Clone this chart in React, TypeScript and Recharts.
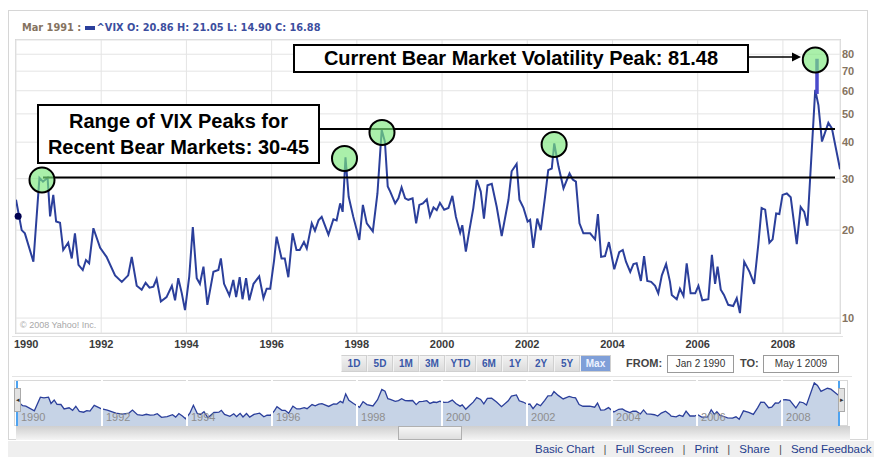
import React from 'react';
import {
  LineChart, Line, XAxis, YAxis, CartesianGrid, ReferenceLine, ReferenceDot,
  AreaChart, Area,
} from 'recharts';

// ---- data (monthly VIX closes, vertices of the line) ----
const monthsFrom1990 = [
  0, 1.6, 2.5, 4.9, 6.6, 7.6, 8.9, 9.6, 10.5, 11.3,
  12.4, 13.3, 14.7, 15.7, 16.6, 17.6, 18.8, 19.7, 20.6, 21.8,
  23.7, 25.5, 27.9, 29.8, 31.6, 32.6, 34.0, 35.4, 36.5, 37.6,
  38.7, 39.6, 40.8, 42.4, 43.9, 44.8, 45.7, 46.7, 47.6, 48.8,
  49.8, 50.9, 51.8, 52.8, 53.9, 55.6, 57.0, 57.7, 58.6, 60.1,
  61.2, 62.0, 63.0, 63.8, 64.8, 65.7, 66.9, 68.5, 69.7, 70.6,
  71.6, 72.7, 73.4, 74.8, 75.7, 76.7, 77.9, 79.0, 79.9, 81.1,
  81.9, 83.3, 84.2, 85.2, 86.1, 88.0, 89.4, 90.3, 91.3, 92.0,
  92.8, 93.7, 95.0, 96.7, 97.7, 98.8, 100.5, 101.8, 103.0, 103.9,
  104.7, 105.4, 106.8, 107.7, 108.6, 109.6, 110.5, 111.7, 112.7, 113.6,
  114.6, 115.7, 116.6, 117.6, 118.5, 119.4, 120.6, 121.8, 122.9, 123.9,
  125.1, 125.7, 126.7, 127.7, 128.8, 129.8, 130.9, 131.8, 132.8, 134.0,
  135.4, 136.8, 138.7, 139.6, 141.0, 141.8, 142.9, 144.1, 144.8, 145.7,
  146.8, 147.8, 149.0, 149.9, 150.9, 151.6, 152.8, 154.2, 155.9, 156.8,
  157.7, 158.7, 159.8, 161.7, 163.1, 163.9, 164.8, 165.9, 167.0, 168.5,
  169.9, 170.9, 171.8, 173.0, 173.9, 174.8, 176.0, 176.9, 177.8, 178.9,
  180.0, 180.9, 181.9, 183.1, 184.2, 184.7, 186.1, 187.0, 188.0, 188.9,
  190.0, 191.3, 192.2, 193.3, 195.0, 196.0, 196.9, 197.6, 198.5, 199.4,
  200.6, 202.0, 203.0, 203.9, 205.1, 206.6, 207.9, 209.1, 210.0, 211.0,
  212.2, 213.1, 214.1, 215.0, 215.9, 217.1, 218.2, 219.9, 221.0, 222.0,
  222.9, 225.1, 226.0, 227.0, 228.8, 229.8, 232.1,
];
const vixClose = [
  25.4, 20.0, 19.5, 15.6, 30.2, 29.3, 30.2, 22.3, 26.4, 21.4,
  21.2, 17.1, 18.1, 16.0, 19.5, 15.2, 14.6, 15.8, 15.4, 20.3,
  17.4, 16.2, 14.0, 13.3, 14.0, 16.2, 12.9, 12.5, 13.2, 12.7,
  12.8, 13.6, 11.4, 11.8, 12.9, 11.5, 13.7, 12.15, 10.65, 13.9,
  20.5, 13.7, 13.1, 15.0, 11.1, 14.4, 14.6, 16.0, 13.1, 11.95,
  13.5, 11.8, 13.8, 11.6, 13.7, 11.5, 13.1, 13.9, 11.7, 12.6,
  12.6, 15.8, 19.0, 16.0, 16.0, 13.8, 19.5, 17.1, 17.1, 18.2,
  17.3, 21.1, 19.9, 21.6, 22.2, 19.3, 21.8, 21.6, 24.7, 23.1,
  35.5, 26.0, 22.2, 18.5, 24.4, 21.1, 19.8, 26.7, 44.0, 40.2,
  28.2, 27.1, 24.7, 25.7, 28.0, 25.7, 25.4, 25.7, 21.1, 24.4,
  24.7, 25.5, 22.3, 23.9, 23.4, 24.8, 23.5, 23.8, 26.2, 22.2,
  19.6, 20.8, 16.9, 20.0, 23.8, 29.7, 27.1, 21.9, 28.5, 28.8,
  24.0, 19.1, 25.4, 31.8, 33.7, 25.4, 23.9, 21.4, 21.7, 17.4,
  21.9, 20.0, 26.0, 32.1, 32.5, 39.6, 33.0, 27.8, 31.3, 29.8,
  29.3, 21.1, 19.5, 19.5, 18.6, 22.7, 16.2, 16.3, 18.2, 14.7,
  16.8, 17.1, 15.6, 14.4, 15.3, 15.4, 13.4, 16.3, 13.4, 13.3,
  12.9, 12.15, 14.0, 15.3, 13.3, 12.0, 11.6, 12.6, 11.9, 15.4,
  12.15, 12.15, 12.9, 11.5, 11.6, 16.45, 13.1, 15.0, 12.5, 12.0,
  11.1, 11.0, 11.7, 10.4, 15.6, 14.4, 13.1, 18.0, 23.8, 23.5,
  18.1, 18.6, 22.8, 22.7, 26.4, 26.7, 25.9, 17.9, 24.0, 23.1,
  20.7, 60.4, 53.6, 40.2, 46.6, 44.6, 32.3,
];
const yearTicks = [1990, 1992, 1994, 1996, 1998, 2000, 2002, 2004, 2006, 2008];
const vixTicks = [10, 20, 30, 40, 50, 60, 70, 80];
const peakYears = [1990.61, 1997.71, 1998.59, 2002.63, 2008.76];
const peakLevels = [29.7, 35.2, 43.2, 39.3, 76.5];
const bearRangeLevels = [30.3, 44.4];
const intradayPeakYear = 2008.8;
const intradayPeakRange = [58.5, 77.2];
const cursorPoint = { year: 1990.05, vix: 22.3 };
const rangeButtons = ['1D', '5D', '1M', '3M', 'YTD', '6M', '1Y', '2Y', '5Y', 'Max'];
const footerLinks = ['Basic Chart', 'Full Screen', 'Print', 'Share', 'Send Feedback'];

const data = monthsFrom1990.map((m, i) => ({ year: 1990 + m / 12, vix: vixClose[i] }));

const FONT = '"Liberation Sans", Arial, sans-serif';
const HEAD_FONT = '"DejaVu Sans", Verdana, sans-serif';
const LINE_BLUE = '#2b3f9b';

const XTick = (props: any) => {
  const { x, y, payload } = props;
  const first = payload.value === 1990;
  return (
    <text x={first ? x - 2 : x} y={y + 15} textAnchor={first ? 'start' : 'middle'}
      fontFamily={FONT} fontSize={11} fontWeight="bold" fill="#3a3a3a">
      {payload.value}
    </text>
  );
};

const YTick = (props: any) => {
  const { x, y, payload } = props;
  return (
    <text x={x + 2} y={y + 4} textAnchor="start" fontFamily={FONT} fontSize={11}
      fontWeight="bold" fill="#85735f">
      {payload.value}
    </text>
  );
};

const navLabel = (yr: number) => (props: any) => {
  const vb = props.viewBox || {};
  return (
    <text x={vb.x + 4} y={vb.y + vb.height - 5} textAnchor="start" fontFamily={FONT}
      fontSize={11} fill="#8e8e8e">
      {yr}
    </text>
  );
};

const wideLine = (p: any) => (
  <line x1={p.x1 - 5} y1={p.y1} x2={p.x2 + 27} y2={p.y2} stroke="#000" strokeWidth={2} />
);

export default function App() {
  return (
    <div style={{ position: 'absolute', left: 0, top: 0, width: 874, height: 457, background: '#fff', overflow: 'hidden', fontFamily: FONT }}>
      {/* panel frame */}
      <div style={{ position: 'absolute', left: 8, top: 10, width: 860, height: 430, border: '1px solid #d6d6d6', boxSizing: 'border-box' }} />
      {/* header */}
      <div style={{ position: 'absolute', left: 22, top: 22, fontFamily: HEAD_FONT, fontSize: 9.8, fontWeight: 'bold', whiteSpace: 'pre' }}>
        <span style={{ color: '#85735f' }}>Mar 1991 : </span>
        <span style={{ display: 'inline-block', width: 10, height: 4, background: '#2b3f9b', verticalAlign: 'middle', marginRight: 2 }} />
        <span style={{ color: '#3c4e9e' }}>{'^VIX O: 20.86 H: 21.05 L: 14.90 C: 16.88'}</span>
      </div>
      {/* plot border */}
      <div style={{ position: 'absolute', left: 15, top: 39, width: 826, height: 295, border: '1px solid #d8d8d8', boxSizing: 'border-box' }} />
      <div style={{ position: 'absolute', left: 12, top: 336, width: 831, height: 1, background: '#e2e2e2' }} />
      <div style={{ position: 'absolute', left: 20, top: 320, fontSize: 9, color: '#a8a8a8' }}>© 2008 Yahoo! Inc.</div>

      <div style={{ position: 'absolute', left: 0, top: 0 }}>
        <LineChart width={874} height={457} data={data} margin={{ top: 40, right: 0, left: 16, bottom: 108 }}>
          <CartesianGrid stroke="#e4e4e4" strokeWidth={1} />
          <XAxis dataKey="year" type="number" scale="linear" domain={[1990, 2009.34]} allowDataOverflow
            ticks={yearTicks} axisLine={false} tickLine={false} tickSize={0} tickMargin={0} height={16}
            interval={0} tick={<XTick />} />
          <YAxis orientation="right" type="number" scale="log" domain={[8.89, 89.5]} allowDataOverflow
            ticks={vixTicks} axisLine={false} tickLine={false} tickSize={0} tickMargin={0} width={34}
            interval={0} tick={<YTick />} />
          <Line type="linear" dataKey="vix" stroke={LINE_BLUE} strokeWidth={2} dot={false} isAnimationActive={false} />
          {bearRangeLevels.map((v) => (
            <ReferenceLine key={v} y={v} ifOverflow="visible" shape={wideLine} />
          ))}
          <ReferenceDot x={cursorPoint.year} y={cursorPoint.vix} r={3.5} fill="#000050" stroke="none" />
          {peakYears.map((yr, i) => (
            <ReferenceDot key={yr} x={yr} y={peakLevels[i]} r={12.5} fill="#7de87d" fillOpacity={0.65}
              stroke="#000" strokeWidth={2} ifOverflow="visible" />
          ))}
          <ReferenceLine segment={[{ x: intradayPeakYear, y: intradayPeakRange[0] }, { x: intradayPeakYear, y: intradayPeakRange[1] }]}
            stroke="#4a4acb" strokeWidth={3.5} ifOverflow="visible" />
        </LineChart>
      </div>

      {/* annotations */}
      <div style={{ position: 'absolute', left: 293, top: 44, width: 456, height: 29, border: '2px solid #000', background: '#fff', boxSizing: 'border-box', fontSize: 20, fontWeight: 'bold', textAlign: 'center', lineHeight: '25px', color: '#000', whiteSpace: 'nowrap' }}>
        Current Bear Market Volatility Peak: 81.48
      </div>
      <svg style={{ position: 'absolute', left: 0, top: 0 }} width={874} height={457} pointerEvents="none">
        <line x1={749} y1={57} x2={793} y2={57} stroke="#000" strokeWidth={1.5} />
        <polygon points="792,52.5 801,57 792,61.5" fill="#000" />
      </svg>
      <div style={{ position: 'absolute', left: 37, top: 104, width: 283, height: 60, border: '2px solid #000', background: '#fff', boxSizing: 'border-box', fontSize: 20, fontWeight: 'bold', textAlign: 'center', lineHeight: '26px', paddingTop: 2, color: '#000', whiteSpace: 'nowrap' }}>
        Range of VIX Peaks for<br />Recent Bear Markets: 30-45
      </div>

      {/* range buttons */}
      <div style={{ position: 'absolute', left: 341, top: 355, display: 'flex', height: 17 }}>
        {rangeButtons.map((b) => {
          const active = b === 'Max';
          return (
            <div key={b} style={{
              width: b.length === 3 ? 31 : 26, height: 17, boxSizing: 'border-box',
              border: '1px solid #d0d0d0', borderLeft: '1px solid #f4f4f4',
              background: active ? '#7f9fd8' : 'linear-gradient(#f2f2f2, #dcdcdc)',
              color: active ? '#eef2ff' : '#3a58a8', fontSize: 10, fontWeight: 'bold',
              textAlign: 'center', lineHeight: '15px',
            }}>{b}</div>
          );
        })}
      </div>
      <div style={{ position: 'absolute', left: 626, top: 357, fontSize: 11, fontWeight: 'bold', color: '#444' }}>FROM:</div>
      <div style={{ position: 'absolute', left: 667, top: 355, width: 67, height: 18, border: '1px solid #9a9a9a', boxSizing: 'border-box', fontSize: 10, color: '#333', textAlign: 'center', lineHeight: '16px' }}>Jan 2 1990</div>
      <div style={{ position: 'absolute', left: 740, top: 357, fontSize: 11, fontWeight: 'bold', color: '#444' }}>TO:</div>
      <div style={{ position: 'absolute', left: 763, top: 355, width: 76, height: 18, border: '1px solid #9a9a9a', boxSizing: 'border-box', fontSize: 10, color: '#333', textAlign: 'center', lineHeight: '16px' }}>May 1 2009</div>
      <div style={{ position: 'absolute', left: 12, top: 376, width: 840, height: 1, background: '#e4e4e4' }} />

      {/* navigator */}
      <div style={{ position: 'absolute', left: 14, top: 380, width: 834, height: 46, border: '1px solid #d8d8d8', boxSizing: 'border-box' }} />
      <div style={{ position: 'absolute', left: 0, top: 378 }}>
        <AreaChart width={874} height={50} data={data} margin={{ top: 2, right: 35, left: 17, bottom: 2 }}>
          <XAxis dataKey="year" type="number" scale="linear" domain={[1990, 2009.34]} allowDataOverflow hide />
          <YAxis hide type="number" scale="log" domain={[7.48, 69.5]} allowDataOverflow />
          <Area type="linear" dataKey="vix" stroke={LINE_BLUE} strokeWidth={1.3} fill="#c6d3e6" fillOpacity={1}
            baseValue={7.48} isAnimationActive={false} />
          {yearTicks.map((yr) => (
            <ReferenceLine key={yr} x={yr} stroke={yr === 1990 ? 'none' : '#ffffff'} strokeWidth={2}
              label={navLabel(yr)} />
          ))}
        </AreaChart>
      </div>
      <div style={{ position: 'absolute', left: 16, top: 381, width: 2, height: 45, background: '#4ea3f0' }} />
      <div style={{ position: 'absolute', left: 838, top: 381, width: 2, height: 45, background: '#4ea3f0' }} />
      <div style={{ position: 'absolute', left: 14, top: 388, width: 7, height: 24, background: '#e2e2e2', border: '1px solid #aaa', boxSizing: 'border-box', fontSize: 7, color: '#333', lineHeight: '22px', textAlign: 'center' }}>◂</div>
      <div style={{ position: 'absolute', left: 838, top: 388, width: 7, height: 24, background: '#e2e2e2', border: '1px solid #aaa', boxSizing: 'border-box', fontSize: 7, color: '#333', lineHeight: '22px', textAlign: 'center' }}>▸</div>
      {/* scrollbar */}
      <div style={{ position: 'absolute', left: 16, top: 426, width: 834, height: 14, background: 'linear-gradient(#cfcfcf, #f5f5f5)' }} />
      <div style={{ position: 'absolute', left: 398, top: 426, width: 64, height: 14, background: 'linear-gradient(#f6f6f6, #dedede)', border: '1px solid #b0b0b0', boxSizing: 'border-box' }} />
      {/* footer links */}
      <div style={{ position: 'absolute', left: 8, top: 441, width: 866, height: 16, background: '#efefef' }} />
      <div style={{ position: 'absolute', left: 535, top: 443, fontSize: 11.5, color: '#1e3c8c', whiteSpace: 'nowrap', display: 'flex' }}>
        {footerLinks.map((l, i) => (
          <span key={l} style={{ display: 'inline-flex' }}>
            {i > 0 && <span style={{ color: '#555', margin: '0 9px' }}>|</span>}
            {l}
          </span>
        ))}
      </div>
    </div>
  );
}
